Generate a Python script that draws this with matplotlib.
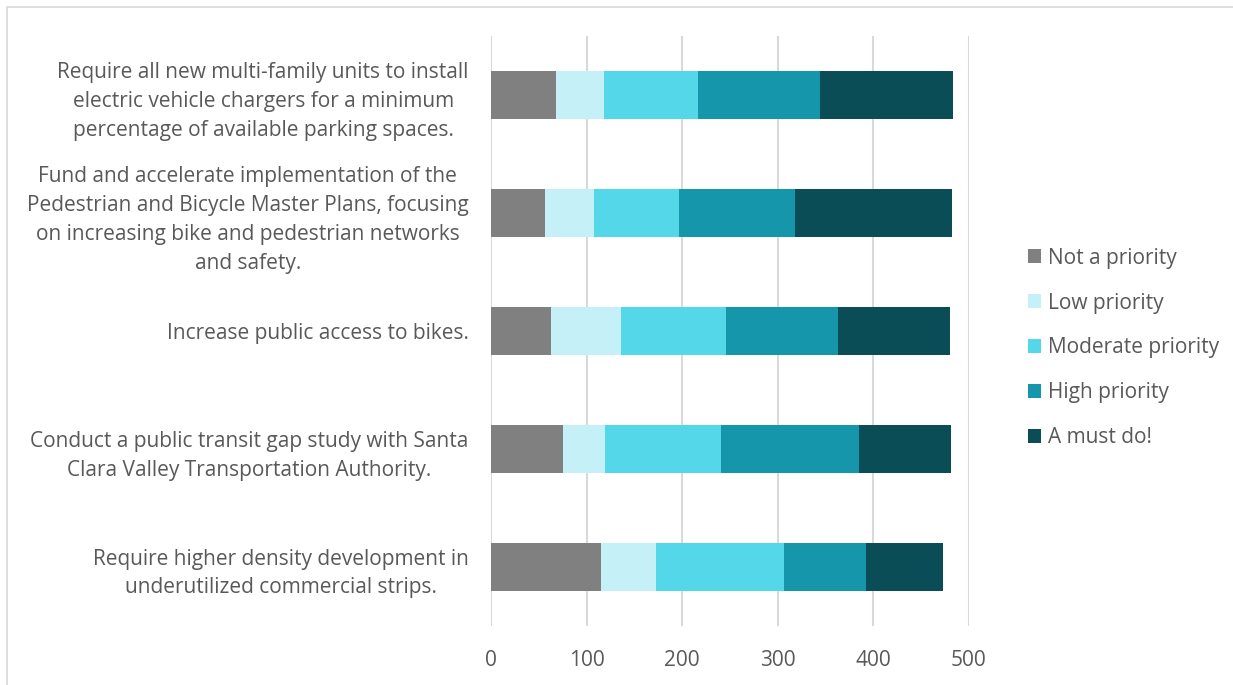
import matplotlib.pyplot as plt
from matplotlib.patches import Rectangle
import numpy as np

plt.rcParams['font.family'] = ['Open Sans', 'DejaVu Sans']

# survey actions (top to bottom as shown)
actions = [
    "Require all new multi-family units to install\nelectric vehicle chargers for a minimum\npercentage of available parking spaces.",
    "Fund and accelerate implementation of the\nPedestrian and Bicycle Master Plans, focusing\non increasing bike and pedestrian networks\nand safety.",
    "Increase public access to bikes.",
    "Conduct a public transit gap study with Santa\nClara Valley Transportation Authority.",
    "Require higher density development in\nunderutilized commercial strips.",
]
priority_levels = ["Not a priority", "Low priority", "Moderate priority", "High priority", "A must do!"]

not_priority = [68, 56, 63, 75, 115]
low_priority = [50, 52, 73, 44, 58]
moderate_priority = [99, 89, 110, 122, 133]
high_priority = [127, 121, 117, 144, 86]
must_do = [139, 164, 117, 96, 81]

colors = ["#808080", "#C5F0F7", "#55D7EA", "#1596AB", "#0B4D57"]

series = [not_priority, low_priority, moderate_priority, high_priority, must_do]

fig = plt.figure(figsize=(12.33, 6.85), dpi=100)
ax = fig.add_axes([491 / 1233, 59 / 685, 478 / 1233, 590 / 685])

# outer chart border
fig.patches.append(Rectangle((7 / 1233, -0.01), 1.0, 1 - 7 / 685 + 0.01,
                             transform=fig.transFigure, fill=False,
                             edgecolor="#D9D9D9", linewidth=1.2))

y = np.arange(len(actions))
left = np.zeros(len(actions))
for vals, name, c in zip(series, priority_levels, colors):
    ax.barh(y, vals, left=left, height=0.4, color=c, label=name, zorder=3)
    left += np.array(vals)

ax.set_xlim(0, 500)
ax.set_ylim(len(actions) - 0.5, -0.5)
ax.set_xticks(range(0, 501, 100))
ax.set_yticks(y)
ax.set_yticklabels(actions, multialignment="center", linespacing=1.5)
ax.grid(axis="x", color="#D9D9D9", linewidth=1.5, zorder=0)
for s in ax.spines.values():
    s.set_visible(False)
ax.tick_params(axis="both", length=0, labelsize=15, colors="#595959")
ax.tick_params(axis="y", pad=16)
ax.tick_params(axis="x", pad=17)

ax.legend(loc="center left", bbox_to_anchor=(1009 / 1233, 1 - 348 / 685),
          bbox_transform=fig.transFigure, frameon=False, fontsize=15,
          handlelength=0.65, handleheight=0.65, handletextpad=0.3,
          labelspacing=1.15, labelcolor="#595959")

fig.savefig("out.png", dpi=100)
